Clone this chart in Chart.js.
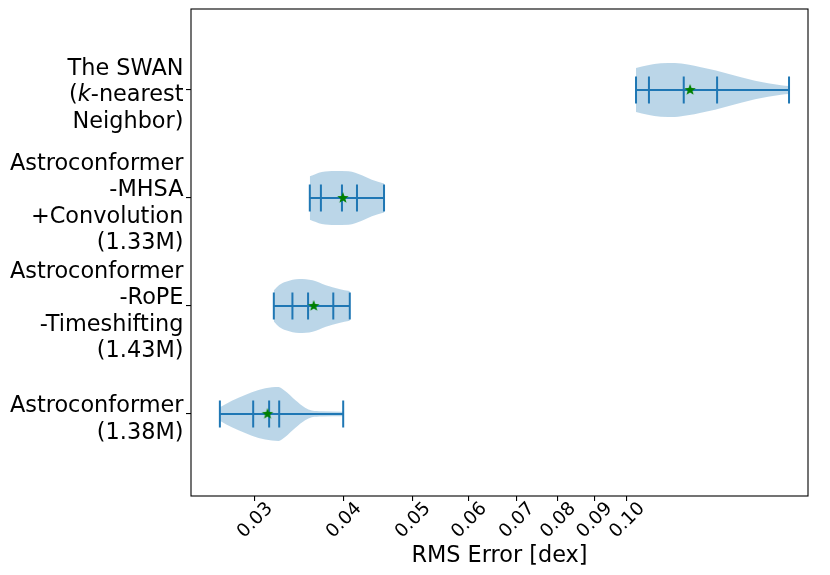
<!DOCTYPE html>
<html>
<head>
<meta charset="utf-8">
<script src="https://cdn.jsdelivr.net/npm/chart.js@4.4.1/dist/chart.umd.min.js"></script>
<style>
  html, body { margin: 0; padding: 0; background: #fff; }
  #wrap { width: 830px; height: 575px; }
</style>
</head>
<body>
<div id="wrap"><canvas id="chart-container"></canvas></div>
<script>
// models, bottom to top (y position 1..4); $..$ = italic
const modelNames = [
  ['Astroconformer', '(1.38M)'],
  ['Astroconformer', '-RoPE', '-Timeshifting', '(1.43M)'],
  ['Astroconformer', '-MHSA', '+Convolution', '(1.33M)'],
  ['The SWAN', '($k$-nearest', 'Neighbor)']
];
const xTickValues = [0.03, 0.04, 0.05, 0.06, 0.07, 0.08, 0.09, 0.10];

// min, lower quantile, median, upper quantile, max
const astroStats = [0.02679, 0.02984, 0.03142, 0.03246, 0.03993];
const ropeStats  = [0.03190, 0.03388, 0.03564, 0.03867, 0.04079];
const mhsaStats  = [0.03584, 0.03715, 0.03977, 0.04175, 0.04557];
const swanStats  = [0.1030, 0.1074, 0.1202, 0.1339, 0.1690];
const meanValues = [0.03126, 0.03630, 0.03989, 0.1227];

// violin outlines: RMS value and half width (category units)
const astroDensityX = [0.02679, 0.02785, 0.02907, 0.03036, 0.03170, 0.03239, 0.03309, 0.03418, 0.03530, 0.03607, 0.03726, 0.03993];
const astroDensityW = [0.062, 0.123, 0.176, 0.222, 0.247, 0.250, 0.213, 0.130, 0.058, 0.031, 0.024, 0.021];
const ropeDensityX  = [0.03190, 0.03246, 0.03317, 0.03463, 0.03616, 0.03775, 0.03941, 0.04079];
const ropeDensityW  = [0.145, 0.195, 0.225, 0.250, 0.238, 0.192, 0.158, 0.138];
const mhsaDensityX  = [0.03584, 0.03726, 0.03890, 0.04063, 0.04242, 0.04381, 0.04557];
const mhsaDensityW  = [0.201, 0.241, 0.250, 0.247, 0.210, 0.169, 0.134];
const swanDensityX  = [0.1030, 0.1070, 0.1116, 0.1168, 0.1218, 0.1271, 0.1330, 0.1387, 0.1447, 0.1514, 0.1579, 0.1647, 0.1690];
const swanDensityW  = [0.204, 0.229, 0.247, 0.250, 0.235, 0.210, 0.182, 0.151, 0.118, 0.086, 0.062, 0.044, 0.037];

const allStats = [astroStats, ropeStats, mhsaStats, swanStats];
const allDensityX = [astroDensityX, ropeDensityX, mhsaDensityX, swanDensityX];
const allDensityW = [astroDensityW, ropeDensityW, mhsaDensityW, swanDensityW];

const BLUE = '#1f77b4';
const BODY = 'rgba(31,119,180,0.3)';
const FONT = 'DejaVu Sans';
const LABEL_SIZE = 22.4;

function makeStar(r) {
  const c = document.createElement('canvas');
  const s = Math.ceil(r * 2 + 2);
  c.width = c.height = s;
  const g = c.getContext('2d');
  g.beginPath();
  for (let k = 0; k < 10; k++) {
    const rr = k % 2 ? r * 0.42 : r;
    const a = -Math.PI / 2 + k * Math.PI / 5;
    g.lineTo(s / 2 + rr * Math.cos(a), s / 2 + rr * Math.sin(a));
  }
  g.closePath();
  g.fillStyle = '#008000';
  g.fill();
  return c;
}

const datasets = [];
// mean markers on top
datasets.push({
  data: meanValues.map((m, i) => ({ x: m, y: i + 1 })),
  showLine: false,
  pointStyle: makeStar(6),
  pointRadius: 6,
  order: 0
});
allStats.forEach((st, i) => {
  const p = i + 1;
  // horizontal bar min -> max
  datasets.push({
    data: [{ x: st[0], y: p }, { x: st[4], y: p }],
    borderColor: BLUE, borderWidth: 2, pointRadius: 0, order: 1
  });
  // vertical ticks at extrema / quantiles / median
  const tickPts = [];
  st.forEach(v => {
    tickPts.push({ x: v, y: p - 0.125 }, { x: v, y: p + 0.125 }, { x: v, y: null });
  });
  datasets.push({
    data: tickPts, borderColor: BLUE, borderWidth: 2, pointRadius: 0,
    spanGaps: false, order: 1
  });
});
allDensityX.forEach((xs, i) => {
  const p = i + 1, ws = allDensityW[i];
  datasets.push({
    data: xs.map((x, k) => ({ x: x, y: p + ws[k] })),
    borderWidth: 0, pointRadius: 0, fill: false,
    cubicInterpolationMode: 'monotone', order: 2
  });
  datasets.push({
    data: xs.map((x, k) => ({ x: x, y: p - ws[k] })),
    borderWidth: 0, pointRadius: 0, fill: '-1', backgroundColor: BODY,
    cubicInterpolationMode: 'monotone', order: 2
  });
});

function drawRich(ctx, text, right, y) {
  const parts = text.split('$').map((t, k) => ({ t: t, it: k % 2 === 1 })).filter(q => q.t);
  let total = 0;
  parts.forEach(q => {
    ctx.font = (q.it ? 'italic ' : '') + LABEL_SIZE + 'px "' + FONT + '"';
    q.w = ctx.measureText(q.t).width;
    total += q.w;
  });
  let x = right - total;
  parts.forEach(q => {
    ctx.font = (q.it ? 'italic ' : '') + LABEL_SIZE + 'px "' + FONT + '"';
    ctx.fillText(q.t, x, y);
    x += q.w;
  });
}

const framePlugin = {
  id: 'frameAndLabels',
  afterDraw(chart) {
    const ctx = chart.ctx, a = chart.chartArea, ys = chart.scales.y;
    ctx.save();
    ctx.strokeStyle = '#000';
    ctx.lineWidth = 1.1;
    ctx.strokeRect(a.left, a.top, a.right - a.left, a.bottom - a.top);
    ctx.fillStyle = '#000';
    ctx.textAlign = 'left';
    ctx.textBaseline = 'alphabetic';
    const right = a.left - 7.5;
    modelNames.forEach((lines, i) => {
      const yc = ys.getPixelForValue(i + 1);
      lines.forEach((line, j) => {
        drawRich(ctx, line, right, yc + 11.5 + (j - (lines.length - 1) / 2) * 26.6);
      });
    });
    ctx.restore();
  }
};

const ctx = document.getElementById('chart-container').getContext('2d');
new Chart(ctx, {
  type: 'line',
  data: { datasets: datasets },
  options: {
    responsive: true,
    maintainAspectRatio: false,
    animation: false,
    layout: { padding: { top: 9, right: 22, left: 0, bottom: 0 } },
    plugins: { legend: { display: false }, tooltip: { enabled: false } },
    scales: {
      x: {
        type: 'logarithmic',
        min: 0.0244,
        max: 0.1797,
        bounds: 'data',
        afterBuildTicks: s => { s.ticks = xTickValues.map(v => ({ value: v })); },
        afterFit: s => { s.height = 79; },
        ticks: {
          callback: v => Number(v).toFixed(2),
          minRotation: 45, maxRotation: 45,
          autoSkip: false,
          color: '#000',
          labelOffset: 15,
          padding: -3,
          font: { family: FONT, size: 18.5 }
        },
        grid: { drawOnChartArea: false, drawTicks: true, tickLength: 5, color: '#000', lineWidth: 1.1 },
        border: { display: false },
        title: {
          display: true, text: 'RMS Error [dex]', color: '#000',
          font: { family: FONT, size: LABEL_SIZE }, padding: { top: 0, bottom: 5 }
        }
      },
      y: {
        type: 'linear',
        min: 0.24,
        max: 4.75,
        bounds: 'data',
        afterBuildTicks: s => { s.ticks = [1, 2, 3, 4].map(v => ({ value: v })); },
        afterFit: s => { s.width = 191; },
        ticks: { display: false },
        grid: { drawOnChartArea: false, drawTicks: true, tickLength: 5, color: '#000', lineWidth: 1.1 },
        border: { display: false }
      }
    }
  },
  plugins: [framePlugin]
});
</script>
</body>
</html>
